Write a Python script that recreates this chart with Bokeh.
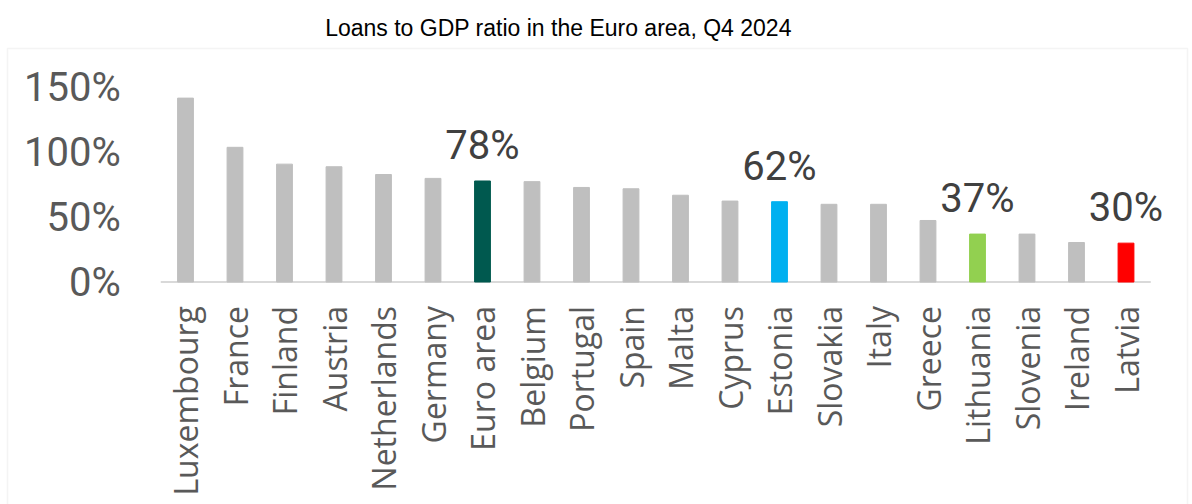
import math
from bokeh.plotting import figure
from bokeh.models import (Range1d, FixedTicker, PrintfTickFormatter, Label, LabelSet,
                          BoxAnnotation, ColumnDataSource)
from bokeh.core.properties import value
from bokeh.embed import file_html
from bokeh.resources import INLINE

# ---- data ----
title_text = "Loans to GDP ratio in the Euro area, Q4 2024"
countries = ["Luxembourg", "France", "Finland", "Austria", "Netherlands", "Germany",
             "Euro area", "Belgium", "Portugal", "Spain", "Malta", "Cyprus", "Estonia",
             "Slovakia", "Italy", "Greece", "Lithuania", "Slovenia", "Ireland", "Latvia"]
values = [142, 104, 91, 89, 83, 80, 78, 77.5, 73, 72, 67, 62.5, 62, 60, 60,
          47.5, 37, 37, 30.5, 30]
highlight_countries = ["Euro area", "Estonia", "Lithuania", "Latvia"]
highlight_colors = ["#00594f", "#00b0f0", "#92d050", "#ff0000"]
highlight_labels = ["78%", "62%", "37%", "30%"]
base_color = "#bfbfbf"
y_ticks = [0, 50, 100, 150]

# ---- layout constants (pixels) ----
W, H = 1192, 504
first_center_px = 185.0   # centre of first bar
step_px = 49.5            # category spacing
base_px = 281.5           # y pixel of 0%
px_per_unit = 1.295       # pixels per percentage point

x_start = -first_center_px / step_px
x_end = (W - first_center_px) / step_px
y_end = base_px / px_per_unit
y_start = -(H - base_px) / px_per_unit

# ---- build ----
color_map = dict(zip(highlight_countries, highlight_colors))
colors = [color_map.get(c, base_color) for c in countries]
idx = list(range(len(countries)))
src = ColumnDataSource(dict(x=idx, country=countries, value=values, color=colors))

val_map = dict(zip(countries, values))
lab_src = ColumnDataSource(dict(x=[countries.index(c) for c in highlight_countries],
                                value=[val_map[c] for c in highlight_countries],
                                label=highlight_labels))

p = figure(x_range=Range1d(x_start, x_end), y_range=Range1d(y_start, y_end),
           width=W, height=H, output_backend="svg", toolbar_location=None,
           min_border=0, min_border_left=0, min_border_right=0,
           min_border_top=0, min_border_bottom=0)
p.background_fill_color = "white"
p.border_fill_color = "white"
p.outline_line_color = None
p.xgrid.visible = False
p.ygrid.visible = False

# baseline under the bars
p.segment(x0=[-0.5], x1=[len(countries) - 0.5], y0=[0], y1=[0],
          line_color="#d9d9d9", line_width=2)

p.vbar(x="x", top="value", width=0.32, color="color", source=src)

xa = p.xaxis[0]
xa.fixed_location = 0
xa.ticker = FixedTicker(ticks=idx)
xa.major_label_overrides = {i: c for i, c in zip(idx, countries)}
xa.axis_line_color = None
xa.major_tick_line_color = None
xa.minor_tick_line_color = None
xa.major_tick_out = 0
xa.major_tick_in = 0
xa.major_label_orientation = math.pi / 2
xa.major_label_text_font = "Open Sans"
xa.major_label_text_font_size = "32px"
xa.major_label_text_color = "#595959"
xa.major_label_standoff = 24

ya = p.yaxis[0]
ya.fixed_location = -0.5
ya.ticker = FixedTicker(ticks=y_ticks)
ya.formatter = PrintfTickFormatter(format="%d%%")
ya.axis_line_color = None
ya.major_tick_line_color = None
ya.minor_tick_line_color = None
ya.major_tick_out = 0
ya.major_tick_in = 0
ya.major_label_text_font = "Roboto"
ya.major_label_text_font_size = "40px"
ya.major_label_text_color = "#595959"
ya.major_label_standoff = 40

p.add_layout(LabelSet(x="x", y="value", text="label", source=lab_src,
                      y_offset=22, text_align="center", text_baseline="alphabetic",
                      text_font=value("Roboto"), text_font_size=value("40px"),
                      text_color="#404040"))

p.add_layout(Label(x=558, y=27, x_units="canvas", y_units="canvas",
                   text=title_text, text_align="center", text_baseline="middle",
                   text_font="Liberation Sans", text_font_size="23px",
                   text_color="black"))

p.add_layout(BoxAnnotation(left=7, right=1187, top=48, bottom=H + 60,
                           left_units="canvas", right_units="canvas",
                           top_units="canvas", bottom_units="canvas",
                           fill_color=None, fill_alpha=0,
                           line_color="#d9d9d9", line_width=1.5))

open("out.html", "w").write(file_html(p, INLINE))
